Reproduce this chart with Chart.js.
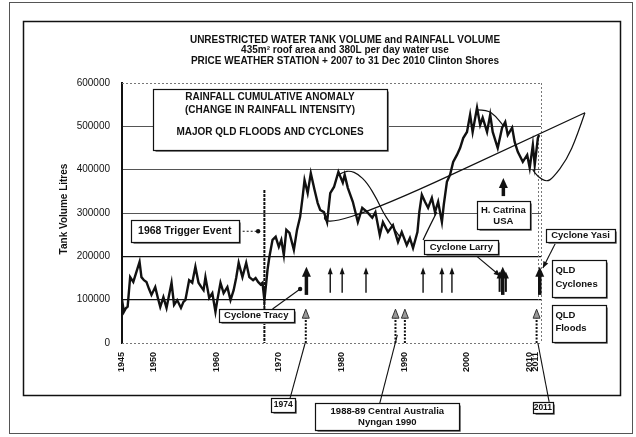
<!DOCTYPE html>
<html>
<head>
<meta charset="utf-8">
<script src="https://cdn.jsdelivr.net/npm/chart.js@4.4.1/dist/chart.umd.min.js"></script>
<style>
  html, body { margin: 0; padding: 0; background: #fff; }
</style>
</head>
<body>
<canvas id="tankChart" width="636" height="437"></canvas>
<script>
// Tank volume series (year, litres)
const years = [
  1945.0, 1945.3, 1945.6, 1945.9, 1946.3, 1946.8, 1947.3, 1947.8, 1948.1, 1948.5,
  1948.9, 1949.3, 1949.7, 1950.3, 1950.7, 1951.1, 1951.6, 1952.1, 1952.5, 1952.9,
  1953.3, 1953.8, 1954.4, 1954.8, 1955.1, 1955.7, 1956.2, 1956.7, 1957.2, 1957.6,
  1958.0, 1958.3, 1958.9, 1959.4, 1959.9, 1960.2, 1960.7, 1961.2, 1961.8, 1962.3,
  1962.8, 1963.2, 1963.6, 1964.2, 1964.8, 1965.3, 1965.9, 1966.3, 1966.7, 1967.1,
  1967.4, 1967.7, 1968.0, 1968.2, 1968.5, 1969.0, 1969.5, 1970.0, 1970.4, 1970.8,
  1971.2, 1971.7, 1972.4, 1972.9, 1973.4, 1973.8, 1974.1, 1974.6, 1975.1, 1975.7,
  1976.2, 1976.6, 1977.2, 1977.7, 1978.2, 1978.8, 1979.5, 1980.2, 1980.5, 1981.0,
  1981.8, 1982.6, 1983.3, 1984.1, 1984.9, 1985.4, 1986.1, 1986.6, 1987.4, 1988.2,
  1989.0, 1989.6, 1990.4, 1990.9, 1991.4, 1992.1, 1992.4, 1992.8, 1993.3, 1993.8,
  1994.4, 1994.9, 1995.4, 1996.0, 1996.3, 1996.8, 1997.3, 1997.8, 1998.4, 1998.9,
  1999.4, 2000.0, 2000.5, 2000.9, 2001.6, 2002.1, 2002.5, 2003.2, 2003.7, 2004.1,
  2004.9, 2005.6, 2006.1, 2006.5, 2007.2, 2007.6, 2008.1, 2008.9, 2009.6, 2010.0,
  2010.5, 2010.8, 2011.3, 2011.5
];
const tankVolume = [
  100000, 72000, 80000, 84000, 152000, 141000, 164000, 187000, 152000, 145000,
  141000, 125000, 111000, 129000, 105000, 83000, 106000, 81000, 110000, 139000,
  88000, 99000, 81000, 95000, 99000, 145000, 139000, 176000, 139000, 130000,
  122000, 152000, 104000, 115000, 72000, 99000, 139000, 115000, 129000, 99000,
  122000, 150000, 185000, 152000, 185000, 152000, 145000, 150000, 141000, 135000,
  139000, 99000, 140000, 169000, 199000, 238000, 245000, 222000, 238000, 203000,
  261000, 254000, 215000, 261000, 291000, 337000, 376000, 346000, 392000, 353000,
  323000, 307000, 302000, 279000, 346000, 360000, 395000, 370000, 388000, 358000,
  326000, 279000, 312000, 302000, 289000, 302000, 249000, 279000, 256000, 272000,
  233000, 256000, 226000, 242000, 219000, 256000, 302000, 342000, 326000, 312000,
  335000, 302000, 326000, 279000, 319000, 372000, 388000, 418000, 434000, 450000,
  473000, 487000, 527000, 487000, 543000, 503000, 520000, 487000, 527000, 487000,
  450000, 497000, 510000, 480000, 497000, 464000, 441000, 418000, 434000, 404000,
  457000, 411000, 473000, 480000
];

const xTickYears = [1945, 1950, 1960, 1970, 1980, 1990, 2000, 2010, 2011];
const yTickValues = [0, 100000, 200000, 300000, 400000, 500000, 600000];

// QLD cyclones and floods (event year)
const cycloneYears = [1974.4, 1978.2, 1980.1, 1983.9, 1993.0, 1996.0, 1997.6, 2005.2, 2005.7, 2006.2, 2011.6];
const cycloneMajor = [true, false, false, false, false, false, false, false, true, false, true];
const floodYears = [1974.3, 1988.6, 1990.1, 2011.1];

const FONT = '"Liberation Sans", Arial, sans-serif';

// note boxes in axis units: x0/x1 years, y0/y1 litres, lines [text, litres]
const noteBoxes = [
  { x0: 1950.0, x1: 1987.2, y0: 586000, y1: 446000, cx: 1968.6, size: 10,
    lines: [['RAINFALL CUMULATIVE ANOMALY', 566000], ['(CHANGE IN RAINFALL INTENSITY)', 537000], ['MAJOR QLD FLOODS AND CYCLONES', 486000]] },
  { x0: 1946.5, x1: 1963.6, y0: 284000, y1: 233000, cx: 1955.0, size: 10.5,
    lines: [['1968 Trigger Event', 258000]] },
  { x0: 1960.4, x1: 1972.5, y0: 78500, y1: 48500, cx: 1966.4, size: 9.5,
    lines: [['Cyclone Tracy', 63000]] },
  { x0: 1993.2, x1: 2005.0, y0: 238000, y1: 205500, cx: 1999.1, size: 9.5,
    lines: [['Cyclone Larry', 221000]] },
  { x0: 2001.6, x1: 2010.0, y0: 328000, y1: 263000, cx: 2005.8, size: 9.5,
    lines: [['H. Catrina', 307000], ['USA', 280000]] },
  { x0: 2012.6, x1: 2023.6, y0: 263000, y1: 233000, cx: 2018.1, size: 9.5,
    lines: [['Cyclone Yasi', 248000]] },
  { x0: 2013.5, x1: 2022.1, y0: 191700, y1: 106200, lx: 2014.1, size: 9.5,
    lines: [['QLD', 168000], ['Cyclones', 135000]] },
  { x0: 2013.5, x1: 2022.1, y0: 87800, y1: 2300, lx: 2014.1, size: 9.5,
    lines: [['QLD', 64000], ['Floods', 34000]] },
  { x0: 1968.8, x1: 1972.6, y0: -127000, y1: -159500, cx: 1970.7, size: 8.5,
    lines: [['1974', -143000]] },
  { x0: 1975.8, x1: 1998.7, y0: -138600, y1: -201000, cx: 1987.3, size: 9.5,
    lines: [['1988-89 Central Australia', -157000], ['Nyngan 1990', -184000]] },
  { x0: 2010.5, x1: 2013.7, y0: -136000, y1: -162000, cx: 2012.1, size: 8.5,
    lines: [['2011', -149000]] }
];

// hand drawn trend and anomaly curves
const curves = [
  [[1977.4, 295600], [1975.8, 242500], [2018.8, 531200]],
  [[2018.8, 531200], [2017.5, 475800], [2015.9, 422600], [2013.7, 381100], [2012.7, 371800], [2011.3, 383400], [2010.5, 399500]],
  [[1979.5, 388000], [1980.3, 395000], [1981.4, 397200], [1982.6, 390300], [1984.1, 369500], [1985.7, 330300], [1986.6, 302500], [1987.7, 277100], [1989.3, 244800]],
  [[2001.6, 538100], [2003.2, 538100], [2004.5, 524300], [2005.7, 503500]],
  [[1993.0, 237900], [1994.0, 268000], [1995.2, 302500]]
];

// leader lines: from, to, end style
const leaders = [
  { from: [1963.6, 258000], to: [1966.7, 258000], dash: [2, 2], end: 'dot' },
  { from: [1969.0, 78500], to: [1973.4, 124700], end: 'dot' },
  { from: [2001.1, 205500], to: [2005.3, 154700], end: 'arrow' },
  { from: [2014.2, 233000], to: [2012.1, 173000], end: 'arrow' },
  { from: [1971.8, -127000], to: [1974.2, 0], end: 'none' },
  { from: [1986.1, -138600], to: [1988.9, 18500], end: 'none' },
  { from: [2013.1, -136000], to: [2011.3, 0], end: 'none' }
];

function drawArrow(ctx, x, yBase, yTip, shaft, headW, headH, color, dash) {
  ctx.save();
  ctx.strokeStyle = '#111';
  ctx.lineWidth = shaft;
  if (dash) ctx.setLineDash(dash);
  ctx.beginPath();
  ctx.moveTo(x, yBase);
  ctx.lineTo(x, yTip + headH - 1);
  ctx.stroke();
  ctx.setLineDash([]);
  ctx.fillStyle = color;
  ctx.beginPath();
  ctx.moveTo(x, yTip);
  ctx.lineTo(x - headW / 2, yTip + headH);
  ctx.lineTo(x + headW / 2, yTip + headH);
  ctx.closePath();
  ctx.fill();
  if (color !== '#111') {
    ctx.lineWidth = 1;
    ctx.strokeStyle = '#333';
    ctx.stroke();
  }
  ctx.restore();
}

function smoothPath(ctx, pts) {
  ctx.beginPath();
  ctx.moveTo(pts[0][0], pts[0][1]);
  if (pts.length < 3) {
    ctx.lineTo(pts[1][0], pts[1][1]);
    return;
  }
  for (let i = 1; i < pts.length - 1; i++) {
    const mx = (pts[i][0] + pts[i + 1][0]) / 2;
    const my = (pts[i][1] + pts[i + 1][1]) / 2;
    ctx.quadraticCurveTo(pts[i][0], pts[i][1], mx, my);
  }
  const last = pts[pts.length - 1];
  ctx.lineTo(last[0], last[1]);
}

const notesPlugin = {
  id: 'notes',
  beforeDatasetsDraw(chart) {
    const ctx = chart.ctx;
    const xs = chart.scales.x, ys = chart.scales.y;
    const area = chart.chartArea;
    ctx.save();
    // dotted top and bottom lines
    ctx.strokeStyle = '#777';
    ctx.lineWidth = 1;
    ctx.setLineDash([2, 2]);
    [0, 600000].forEach(v => {
      const y = Math.round(ys.getPixelForValue(v)) + 0.5;
      ctx.beginPath();
      ctx.moveTo(area.left, y);
      ctx.lineTo(area.right, y);
      ctx.stroke();
    });
    // right edge of the plot
    ctx.beginPath();
    ctx.moveTo(area.right + 0.5, area.top);
    ctx.lineTo(area.right + 0.5, area.bottom);
    ctx.stroke();
    // 2011 marker
    const x11 = xs.getPixelForValue(2011.4);
    ctx.beginPath();
    ctx.moveTo(x11, ys.getPixelForValue(480000));
    ctx.lineTo(x11, ys.getPixelForValue(100000));
    ctx.stroke();
    // 1968 trigger line
    ctx.strokeStyle = '#111';
    ctx.lineWidth = 2;
    ctx.setLineDash([3, 1]);
    const x68 = xs.getPixelForValue(1967.7);
    ctx.beginPath();
    ctx.moveTo(x68, ys.getPixelForValue(353000));
    ctx.lineTo(x68, ys.getPixelForValue(0));
    ctx.stroke();
    ctx.restore();
  },
  afterDraw(chart) {
    const ctx = chart.ctx;
    const xs = chart.scales.x, ys = chart.scales.y;
    const X = v => xs.getPixelForValue(v);
    const Y = v => ys.getPixelForValue(v);
    ctx.save();

    // curves
    ctx.strokeStyle = '#111';
    ctx.lineWidth = 1.2;
    curves.forEach(c => {
      smoothPath(ctx, c.map(p => [X(p[0]), Y(p[1])]));
      ctx.stroke();
    });

    // cyclone arrows
    cycloneYears.forEach((yr, i) => {
      const x = X(yr);
      if (cycloneMajor[i]) {
        drawArrow(ctx, x, Y(111000), Y(176000), 3.5, 9, 10, '#111');
      } else if (yr > 2005 && yr < 2007) {
        drawArrow(ctx, x, Y(118000), Y(165000), 2, 6, 7, '#111');
      } else {
        drawArrow(ctx, x, Y(116000), Y(175000), 1.4, 5, 7, '#111');
      }
    });
    // H. Catrina arrow
    drawArrow(ctx, X(2005.8), Y(339000), Y(381000), 3.5, 9, 10, '#111');

    // flood arrows
    floodYears.forEach(yr => {
      drawArrow(ctx, X(yr), Y(0), Y(78000), 2, 7, 9, '#999', [2, 1.5]);
    });

    // leaders
    leaders.forEach(l => {
      const x0 = X(l.from[0]), y0 = Y(l.from[1]);
      const x1 = X(l.to[0]), y1 = Y(l.to[1]);
      ctx.strokeStyle = '#111';
      ctx.lineWidth = 1.1;
      ctx.setLineDash(l.dash || []);
      ctx.beginPath();
      ctx.moveTo(x0, y0);
      ctx.lineTo(x1, y1);
      ctx.stroke();
      ctx.setLineDash([]);
      ctx.fillStyle = '#111';
      if (l.end === 'dot') {
        ctx.beginPath();
        ctx.arc(x1, y1, 2.2, 0, Math.PI * 2);
        ctx.fill();
      } else if (l.end === 'arrow') {
        const a = Math.atan2(y1 - y0, x1 - x0);
        ctx.beginPath();
        ctx.moveTo(x1, y1);
        ctx.lineTo(x1 - 7 * Math.cos(a - 0.4), y1 - 7 * Math.sin(a - 0.4));
        ctx.lineTo(x1 - 7 * Math.cos(a + 0.4), y1 - 7 * Math.sin(a + 0.4));
        ctx.closePath();
        ctx.fill();
      }
    });

    // note boxes
    noteBoxes.forEach(b => {
      const l = Math.round(X(b.x0)) + 0.5, r = Math.round(X(b.x1)) + 0.5;
      const t = Math.round(Y(b.y0)) + 0.5, btm = Math.round(Y(b.y1)) + 0.5;
      ctx.fillStyle = '#fff';
      ctx.fillRect(l, t, r - l, btm - t);
      ctx.strokeStyle = '#888';
      ctx.lineWidth = 1;
      ctx.beginPath();
      ctx.moveTo(l + 2, btm + 1);
      ctx.lineTo(r + 1, btm + 1);
      ctx.lineTo(r + 1, t + 2);
      ctx.stroke();
      ctx.strokeStyle = '#111';
      ctx.lineWidth = 1.2;
      ctx.strokeRect(l, t, r - l, btm - t);
      ctx.fillStyle = '#111';
      ctx.font = 'bold ' + b.size + 'px ' + FONT;
      ctx.textBaseline = 'middle';
      b.lines.forEach(([txt, v]) => {
        if (b.lx !== undefined) {
          ctx.textAlign = 'left';
          ctx.fillText(txt, X(b.lx), Y(v));
        } else {
          ctx.textAlign = 'center';
          ctx.fillText(txt, X(b.cx), Y(v));
        }
      });
    });

    // chart titles
    ctx.fillStyle = '#111';
    ctx.textAlign = 'center';
    ctx.textBaseline = 'middle';
    ctx.font = 'bold 10px ' + FONT;
    ctx.fillText('UNRESTRICTED WATER TANK VOLUME and RAINFALL VOLUME', 345, 40);
    ctx.fillText('435m\u00B2 roof area and 380L per day water use', 345, 50.5);
    ctx.fillText('PRICE WEATHER STATION + 2007 to 31 Dec 2010 Clinton Shores', 345, 61);

    // y axis title
    ctx.save();
    ctx.translate(64, 209);
    ctx.rotate(-Math.PI / 2);
    ctx.font = 'bold 10px ' + FONT;
    ctx.fillText('Tank Volume Litres', 0, 0);
    ctx.restore();

    // frames
    ctx.strokeStyle = '#111';
    ctx.lineWidth = 1.5;
    ctx.strokeRect(23.5, 21.5, 597, 374);
    ctx.strokeStyle = '#555';
    ctx.lineWidth = 1;
    ctx.strokeRect(9.5, 2.5, 623, 431);
    ctx.restore();
  }
};

const points = years.map((yr, i) => ({ x: yr, y: tankVolume[i] }));

new Chart(document.getElementById('tankChart').getContext('2d'), {
  type: 'line',
  data: {
    datasets: [{
      label: 'Tank volume',
      data: points,
      borderColor: '#111',
      borderWidth: 2.4,
      pointRadius: 0,
      tension: 0
    }]
  },
  options: {
    responsive: false,
    animation: false,
    devicePixelRatio: 1,
    layout: { padding: { left: 0, right: 95, top: 83, bottom: 0 } },
    plugins: { legend: { display: false }, tooltip: { enabled: false } },
    scales: {
      x: {
        type: 'linear',
        min: 1945,
        max: 2011.8,
        afterBuildTicks: s => { s.ticks = xTickYears.map(v => ({ value: v })); },
        afterFit: s => { s.height = 94; },
        grid: { display: false, drawTicks: false },
        border: { display: false },
        ticks: {
          autoSkip: false,
          minRotation: 90,
          maxRotation: 90,
          padding: 9,
          color: '#111',
          font: { family: FONT, size: 9, weight: 'bold' },
          callback: v => String(v)
        }
      },
      y: {
        min: 0,
        max: 600000,
        afterBuildTicks: s => { s.ticks = yTickValues.map(v => ({ value: v })); },
        afterFit: s => { s.width = 122; },
        grid: {
          drawTicks: false,
          color: ctx => {
            const v = ctx.tick.value;
            if (v === 0 || v === 600000) return 'rgba(0,0,0,0)';
            return (v === 100000 || v === 200000) ? '#111' : '#555';
          },
          lineWidth: ctx => (ctx.tick.value === 100000 || ctx.tick.value === 200000) ? 1.3 : 1
        },
        border: { display: true, color: '#111', width: 2 },
        ticks: {
          padding: 12,
          color: '#111',
          font: { family: FONT, size: 10 },
          callback: v => String(v)
        }
      }
    }
  },
  plugins: [notesPlugin]
});
</script>
</body>
</html>
